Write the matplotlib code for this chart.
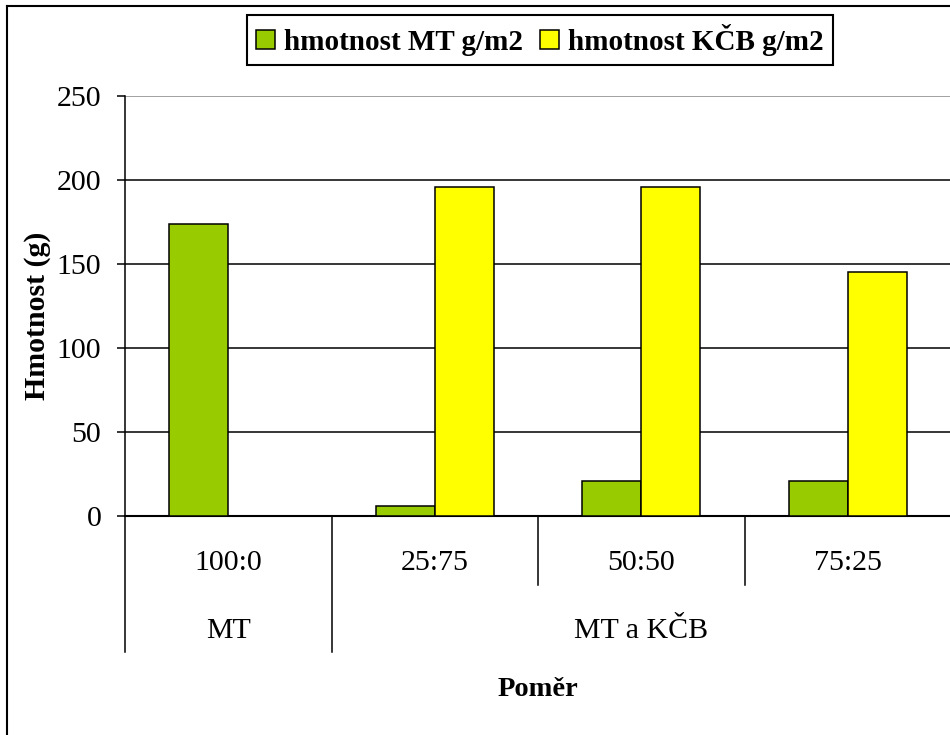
import numpy as np
import matplotlib.pyplot as plt
from matplotlib.lines import Line2D
import matplotlib.transforms as mtransforms

# data
ratios = ["100:0", "25:75", "50:50", "75:25"]
groups = ["MT", "MT a KČB"]
group_spans = [(0, 0), (1, 3)]
mt_mass = [174, 6, 21, 21]
kcb_mass = [0, 196, 196, 145]
series_names = ["hmotnost MT g/m2", "hmotnost KČB g/m2"]

plt.rcParams['font.family'] = ['Liberation Serif', 'DejaVu Serif']

W, H = 950, 735
fig = plt.figure(figsize=(W / 100, H / 100), dpi=100)

# plot area in pixels
left, right, top, bottom = 125, 951, 96, 516
ax = fig.add_axes([left / W, (H - bottom) / H, (right - left) / W, (bottom - top) / H])

x = np.arange(len(ratios))
w = 1 / 3.5
b1 = ax.bar(x - w / 2, mt_mass, w, color="#99CC00", edgecolor="black", linewidth=1.1, zorder=3)
b2 = ax.bar(x + w / 2, kcb_mass, w, color="#FFFF00", edgecolor="black", linewidth=1.1, zorder=3)

ax.set_xlim(-0.5, len(ratios) - 0.5)
ax.set_ylim(0, 250)
ax.set_yticks(np.arange(0, 251, 50))
for v in np.arange(50, 251, 50):
    ax.axhline(v, color="#888888" if v == 250 else "black", linewidth=1.1, zorder=1)

ax.set_xticks([])
ax.tick_params(axis="y", direction="out", length=6, width=1.1, pad=11, labelsize=21.5)
for s in ["top", "right"]:
    ax.spines[s].set_visible(False)
ax.spines["left"].set_linewidth(1.1)
ax.spines["bottom"].set_linewidth(1.5)

# hierarchical category axis
tr = mtransforms.blended_transform_factory(ax.transData, ax.transAxes)
y_inner = (bottom - 585) / (bottom - top)
y_outer = (bottom - 652) / (bottom - top)
outer_edges = {-0.5}
for a, b in group_spans:
    outer_edges.add(a - 0.5)
    outer_edges.add(b + 0.5)
for e in np.arange(-0.5, len(ratios) - 0.5, 1.0):
    y_end = y_outer if e in outer_edges else y_inner
    ax.add_line(Line2D([e, e], [0, y_end], transform=tr, color="black", linewidth=1.1, clip_on=False))

for i, r in enumerate(ratios):
    ax.text(i, (bottom - 563) / (bottom - top), r, transform=tr, ha="center", va="center", fontsize=21.5)
for g, (a, b) in zip(groups, group_spans):
    ax.text((a + b) / 2, (bottom - 631) / (bottom - top), g, transform=tr, ha="center", va="center", fontsize=21.5)

fig.text((left + right) / 2 / W, 1 - 690 / H, "Poměr", ha="center", va="center", fontsize=20.5, fontweight="bold")
fig.text(38 / W, 1 - 316 / H, "Hmotnost (g)", ha="center", va="center", rotation=90, fontsize=21.5, fontweight="bold")

leg = fig.legend([b1, b2], series_names, loc="center", bbox_to_anchor=(540 / W, 1 - 40 / H), ncol=2,
                 fancybox=False, framealpha=1, edgecolor="black", handlelength=0.65, handleheight=0.65,
                 handletextpad=0.3, columnspacing=0.6, borderpad=0.3,
                 prop={"size": 21, "weight": "bold"})
leg.get_frame().set_linewidth(1.5)

# outer chart border (cut off at right and bottom)
fig.add_artist(Line2D([7 / W, 7 / W], [0, 1 - 6 / H], transform=fig.transFigure, color="black", linewidth=1.5))
fig.add_artist(Line2D([7 / W, 1], [1 - 6 / H, 1 - 6 / H], transform=fig.transFigure, color="black", linewidth=1.5))

fig.savefig("out.png", dpi=100)
